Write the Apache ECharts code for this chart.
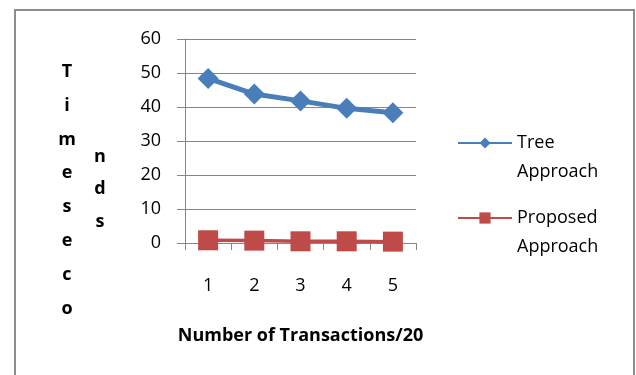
<!DOCTYPE html>
<html><head><meta charset="utf-8">
<script src="https://cdn.jsdelivr.net/npm/echarts@6/dist/echarts.min.js"></script>
<style>html,body{margin:0;padding:0;background:#fff}#c{width:636px;height:375px}</style>
</head><body><div id="c"></div>
<script>
var categories = ['1', '2', '3', '4', '5'];
var treeApproach = [48.4, 43.8, 41.8, 39.6, 38.3];
var proposedApproach = [0.8, 0.7, 0.5, 0.5, 0.4];
var yTicks = [0, 10, 20, 30, 40, 50, 60];
var seriesNames = ['Tree Approach', 'Proposed Approach'];
var xTitle = 'Number of Transactions/20';
var yTitleCol1 = ['T', 'i', 'm', 'e', 's', 'e', 'c', 'o'];
var yTitleCol2 = ['n', 'd', 's'];

var chart = echarts.init(document.getElementById('c'));
var FONT = 'Open Sans';
function legendCfg(name, top) {
  return {
    data: [name], left: 457, top: top, orient: 'vertical', padding: 0,
    itemWidth: 54, itemHeight: 14, itemGap: 0,
    selectedMode: false,
    formatter: function (n) { return '\n' + n.replace(' ', '\n'); },
    textStyle: { fontFamily: FONT, fontSize: 18, color: '#000', lineHeight: 29 }
  };
}
chart.setOption({
  animation: false,
  grid: { left: 185, right: 220, top: 39, bottom: 132 },
  legend: [legendCfg(seriesNames[0], 99.5), legendCfg(seriesNames[1], 174.5)],
  xAxis: {
    type: 'category', data: categories, boundaryGap: true,
    name: xTitle, nameLocation: 'middle', nameGap: 84,
    nameTextStyle: { fontFamily: FONT, fontSize: 18, fontWeight: 'bold', color: '#000' },
    axisLine: { lineStyle: { color: '#868686', width: 1 } },
    axisTick: { show: true, length: 7, lineStyle: { color: '#868686' } },
    axisLabel: { margin: 34, fontFamily: FONT, fontSize: 18, color: '#000' }
  },
  yAxis: {
    type: 'value', min: yTicks[0], max: yTicks[yTicks.length - 1], interval: 10,
    axisLine: { show: true, lineStyle: { color: '#868686', width: 1 } },
    axisTick: { show: true, length: 8, lineStyle: { color: '#868686' } },
    axisLabel: { margin: 24, fontFamily: FONT, fontSize: 18, color: '#000' },
    splitLine: { lineStyle: { color: '#868686', width: 1 } }
  },
  series: [
    { name: seriesNames[0], type: 'line', data: treeApproach, symbol: 'diamond', symbolSize: 21,
      lineStyle: { color: '#4a7ebb', width: 5 }, itemStyle: { color: '#4a7ebb' } },
    { name: seriesNames[1], type: 'line', data: proposedApproach, symbol: 'rect', symbolSize: 20,
      lineStyle: { color: '#be4b48', width: 3.5 }, itemStyle: { color: '#be4b48' } }
  ],
  graphic: [
    { type: 'rect', shape: { x: 15, y: 10, width: 619, height: 380 }, style: { fill: 'none', stroke: '#8c8c8c', lineWidth: 2 }, silent: true },
    { type: 'text', x: 67, y: 55, style: { text: yTitleCol1.join('\n'), fontFamily: FONT, fontSize: 18, fontWeight: 'bold', lineHeight: 33.8, align: 'center', fill: '#000' } },
    { type: 'text', x: 100, y: 140.5, style: { text: yTitleCol2.join('\n'), fontFamily: FONT, fontSize: 18, fontWeight: 'bold', lineHeight: 32.5, align: 'center', fill: '#000' } }
  ]
});
</script></body></html>
